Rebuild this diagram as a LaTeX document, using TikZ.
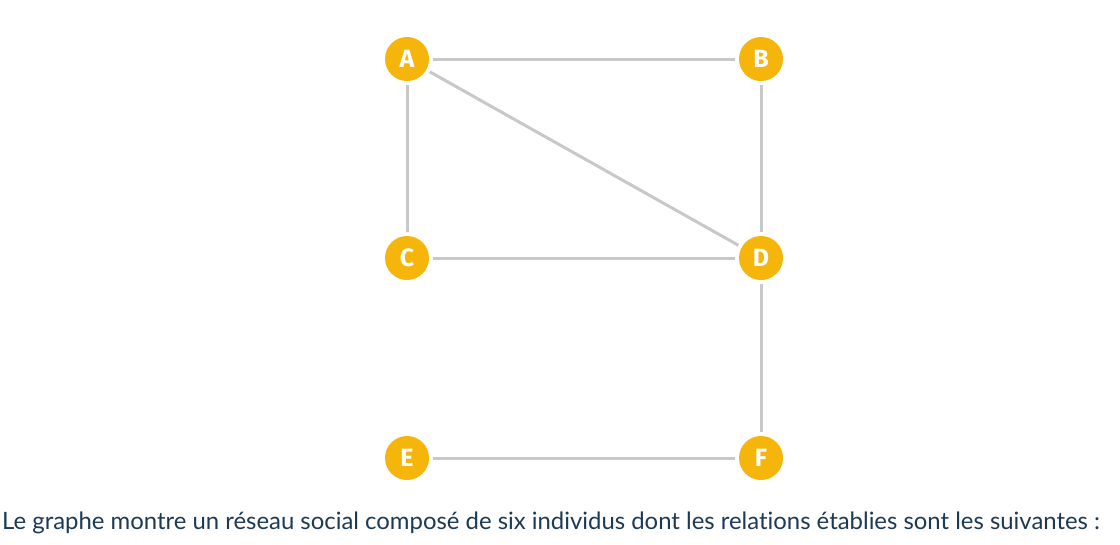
\documentclass[tikz,border=0pt]{standalone}
\usepackage{fontspec}
\setmainfont{Lato}
\newfontfamily\nodefont{Fira Sans}
\definecolor{nodeorange}{HTML}{F6B50A}
\definecolor{edgegray}{HTML}{C8C8C8}
\definecolor{textblue}{HTML}{1D3A55}
\begin{document}
\begin{tikzpicture}[x=1pt,y=-1pt,
  vertex/.style={circle,fill=nodeorange,minimum size=44pt,inner sep=0pt,outer sep=4pt,
    text=white,font=\nodefont\bfseries\fontsize{25}{25}\selectfont},
  edge/.style={draw=edgegray,line width=3pt}]
\useasboundingbox[fill=white] (0,0) rectangle (1120,544);
\node[vertex] (A) at (407,59) {A};
\node[vertex] (B) at (761,59) {B};
\node[vertex] (C) at (407,258) {C};
\node[vertex] (D) at (761,258) {D};
\node[vertex] (E) at (407,458) {E};
\node[vertex] (F) at (761,458) {F};
\draw[edge] (A) -- (B);
\draw[edge] (A) -- (C);
\draw[edge] (A) -- (D);
\draw[edge] (B) -- (D);
\draw[edge] (C) -- (D);
\draw[edge] (D) -- (F);
\draw[edge] (E) -- (F);
\node[anchor=base west,inner sep=0pt,text=textblue,font=\addfontfeatures{Ligatures=NoCommon}\fontsize{23.9}{28}\selectfont] (caption) at (2,529)
  {Le graphe montre un réseau social composé de six individus dont les relations établies sont les suivantes :};
\end{tikzpicture}
\end{document}
